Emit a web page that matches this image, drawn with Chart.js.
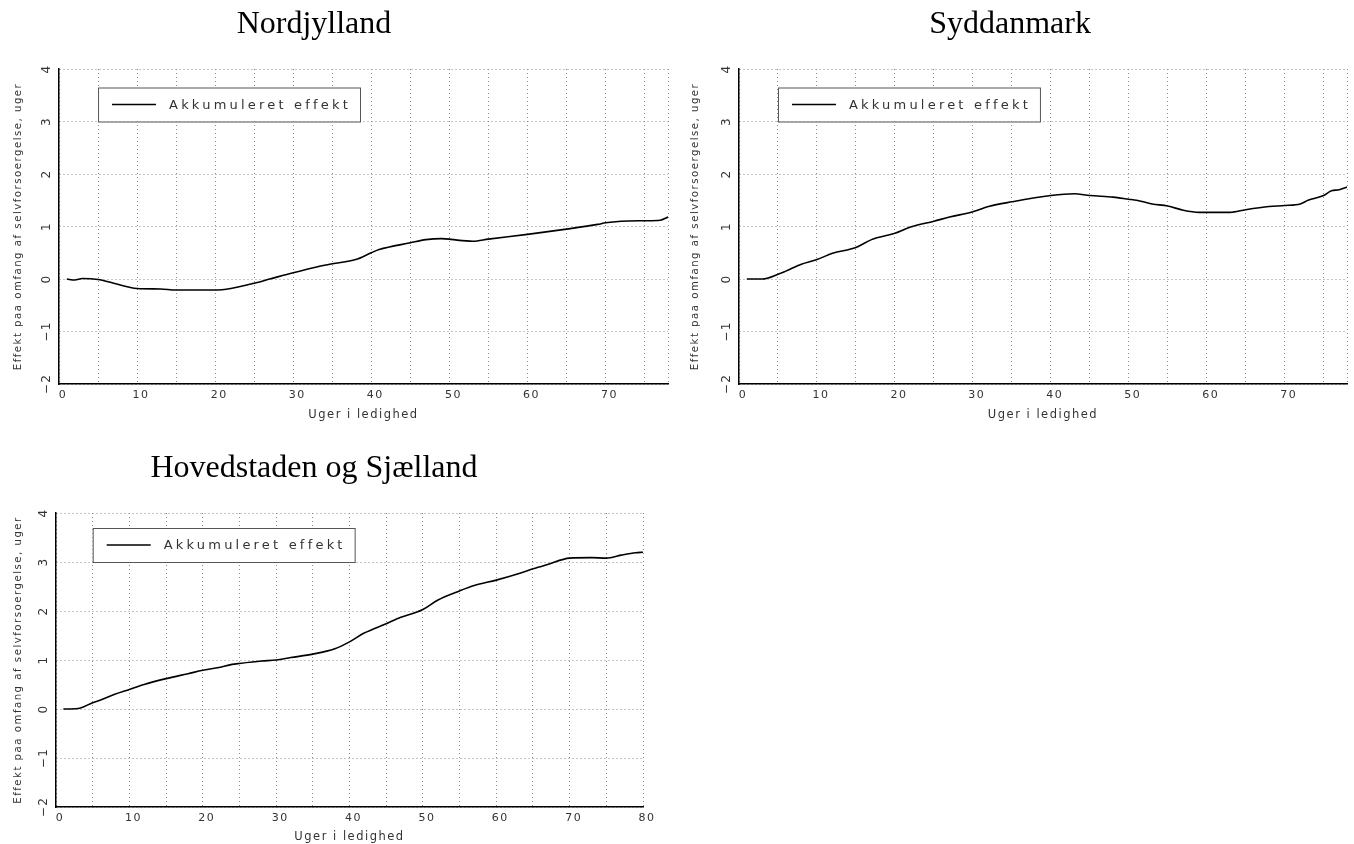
<!DOCTYPE html>
<html>
<head>
<meta charset="utf-8">
<script src="https://cdn.jsdelivr.net/npm/chart.js@4"></script>
<style>
  body { margin: 0; background: #fff; width: 1354px; height: 844px; position: relative; overflow: hidden; }
  canvas { position: absolute; }
</style>
</head>
<body>
<canvas id="nordChart" width="677" height="430" style="left:0;top:0"></canvas>
<canvas id="sydChart" width="677" height="430" style="left:677px;top:0"></canvas>
<canvas id="hovChart" width="677" height="414" style="left:0;top:430px"></canvas>
<script>
// uger i ledighed / akkumuleret effekt, aflaest fra figuren
const weeksNord = [1, 2, 3, 5, 7, 10, 13, 15, 20, 22, 25, 27, 30, 33, 35, 38, 40, 41, 45, 47, 49, 50, 51, 53, 55, 60, 65, 69, 70, 72, 75, 77, 78]
const effectNord = [0, -0.02, 0.01, -0.01, -0.08, -0.18, -0.19, -0.21, -0.21, -0.18, -0.08, 0, 0.12, 0.23, 0.29, 0.37, 0.5, 0.56, 0.69, 0.75, 0.77, 0.76, 0.74, 0.72, 0.76, 0.85, 0.95, 1.04, 1.07, 1.1, 1.11, 1.12, 1.18]

const weeksSyd = [1, 3, 5, 6, 8, 10, 12, 15, 17, 20, 22, 25, 27, 30, 32, 35, 40, 43, 45, 48, 50, 51, 53, 55, 57, 59, 60, 63, 65, 68, 70, 72, 73, 75, 76, 77, 78]
const effectSyd = [0, 0, 0.09, 0.15, 0.28, 0.37, 0.49, 0.6, 0.75, 0.87, 0.99, 1.1, 1.18, 1.28, 1.38, 1.47, 1.59, 1.625, 1.59, 1.56, 1.52, 1.5, 1.43, 1.39, 1.31, 1.27, 1.27, 1.27, 1.32, 1.38, 1.4, 1.43, 1.5, 1.59, 1.68, 1.7, 1.75]

const weeksHov = [1, 3, 5, 6, 8, 10, 12, 15, 18, 20, 22, 24, 25, 28, 30, 32, 35, 38, 40, 42, 45, 47, 49, 50, 52, 55, 57, 60, 63, 65, 67, 70, 73, 75, 77, 79, 80]
const effectHov = [0, 0.01, 0.13, 0.18, 0.3, 0.4, 0.5, 0.62, 0.72, 0.79, 0.84, 0.91, 0.93, 0.98, 1.0, 1.05, 1.12, 1.23, 1.37, 1.55, 1.74, 1.87, 1.97, 2.03, 2.22, 2.41, 2.52, 2.63, 2.76, 2.86, 2.95, 3.08, 3.09, 3.08, 3.14, 3.19, 3.2]

const yTicks = [-2, -1, 0, 1, 2, 3, 4]
const seriesLabel = 'Akkumuleret effekt'
const xTitle = 'Uger i ledighed'
const yTitle = 'Effekt paa omfang af selvforsoergelse, uger'

const monoFont = "'DejaVu Sans', sans-serif"
const gridColor = '#8c8c8c'

// tekst med luft mellem bogstaverne, som i originalen
const spacing = {
    id: 'spacing',
    beforeDraw: chart => { chart.ctx.letterSpacing = '1.5px' }
}

const panelTitle = {
    id: 'panelTitle',
    afterDraw: (chart, args, opts) => {
        const ctx = chart.ctx
        ctx.save()
        ctx.letterSpacing = '0px'
        ctx.font = "32px 'Liberation Serif', 'Times New Roman', serif"
        ctx.fillStyle = '#000'
        ctx.textAlign = 'center'
        ctx.textBaseline = 'alphabetic'
        ctx.fillText(opts.text, opts.x, opts.y)
        ctx.restore()
    }
}

const boxLegend = {
    id: 'boxLegend',
    afterDatasetsDraw: chart => {
        const ctx = chart.ctx
        const { x, y } = chart.scales
        const left = x.getPixelForValue(5)
        const bottom = y.getPixelForValue(3)
        ctx.save()
        ctx.letterSpacing = '3.2px'
        ctx.font = "13px " + monoFont
        const text = chart.data.datasets[0].label
        const w = 14 + 43 + 13 + ctx.measureText(text).width + 10
        const h = 34
        ctx.fillStyle = '#fff'
        ctx.fillRect(left, bottom - h, w, h)
        ctx.strokeStyle = '#555'
        ctx.lineWidth = 1
        ctx.strokeRect(left + 0.5, bottom - h + 0.5, w, h)
        ctx.strokeStyle = '#000'
        ctx.lineWidth = 1.5
        ctx.beginPath()
        ctx.moveTo(left + 14, bottom - h / 2)
        ctx.lineTo(left + 58, bottom - h / 2)
        ctx.stroke()
        ctx.fillStyle = '#333'
        ctx.textBaseline = 'middle'
        ctx.fillText(text, left + 71, bottom - h / 2 + 1)
        ctx.restore()
    }
}

const makePanel = (id, title, weeks, effect, xMax, area) => {
    const canvas = document.getElementById(id)
    const W = canvas.width, H = canvas.height

    const data = {
        datasets: [{
            label: seriesLabel,
            data: weeks.map((w, i) => ({ x: w, y: effect[i] })),
            borderColor: '#000',
            borderWidth: 1.6,
            pointRadius: 0,
            tension: 0.35,
            cubicInterpolationMode: 'monotone',
            fill: false
        }]
    }

    const options = {
        responsive: false,
        animation: false,
        layout: { padding: { top: area.top, right: W - area.right, left: 0, bottom: 0 } },
        plugins: {
            legend: { display: false },
            tooltip: { enabled: false },
            panelTitle: { text: title, x: area.titleX, y: area.titleY }
        },
        scales: {
            x: {
                type: 'linear',
                min: 0,
                max: xMax,
                afterFit: s => { s.height = H - area.bottom },
                border: { color: '#000', width: 1.5, dash: [1, 3] },
                grid: { color: gridColor, drawTicks: false, lineWidth: 1 },
                ticks: {
                    stepSize: 5,
                    padding: 5,
                    labelOffset: 4,
                    maxRotation: 0,
                    autoSkip: false,
                    color: '#333',
                    font: { family: monoFont, size: 11 },
                    callback: v => (v % 10 === 0 ? String(v) : '')
                },
                title: {
                    display: true,
                    text: xTitle,
                    color: '#333',
                    font: { family: monoFont, size: 11.5 },
                    padding: { top: 0, bottom: area.xTitlePad }
                }
            },
            y: {
                min: yTicks[0],
                max: yTicks[yTicks.length - 1],
                afterFit: s => { s.width = area.left },
                afterBuildTicks: s => { s.ticks = yTicks.map(v => ({ value: v })) },
                border: { color: '#000', width: 1.5, dash: [1, 3] },
                grid: { color: gridColor, drawTicks: false, lineWidth: 1 },
                ticks: {
                    padding: 3,
                    minRotation: 90,
                    maxRotation: 90,
                    crossAlign: 'center',
                    color: '#333',
                    font: { family: monoFont, size: 12 },
                    callback: v => (v < 0 ? '\u2212' + Math.abs(v) : String(v))
                },
                title: {
                    display: true,
                    text: yTitle,
                    color: '#333',
                    font: { family: "'DejaVu Sans Condensed', 'DejaVu Sans', sans-serif", size: 11.3 },
                    padding: { top: 11, bottom: 0 }
                }
            }
        }
    }

    new Chart(canvas, { type: 'line', data, options, plugins: [spacing, panelTitle, boxLegend] })
}

makePanel('nordChart', 'Nordjylland', weeksNord, effectNord, 78,
    { left: 59, right: 668, top: 69, bottom: 384, titleX: 314, titleY: 33, xTitlePad: 8 })
makePanel('sydChart', 'Syddanmark', weeksSyd, effectSyd, 78,
    { left: 62, right: 670, top: 69, bottom: 384, titleX: 333, titleY: 33, xTitlePad: 8 })
makePanel('hovChart', 'Hovedstaden og Sjælland', weeksHov, effectHov, 80,
    { left: 56, right: 643, top: 83, bottom: 377, titleX: 314, titleY: 47, xTitlePad: 0 })
</script>
</body>
</html>
